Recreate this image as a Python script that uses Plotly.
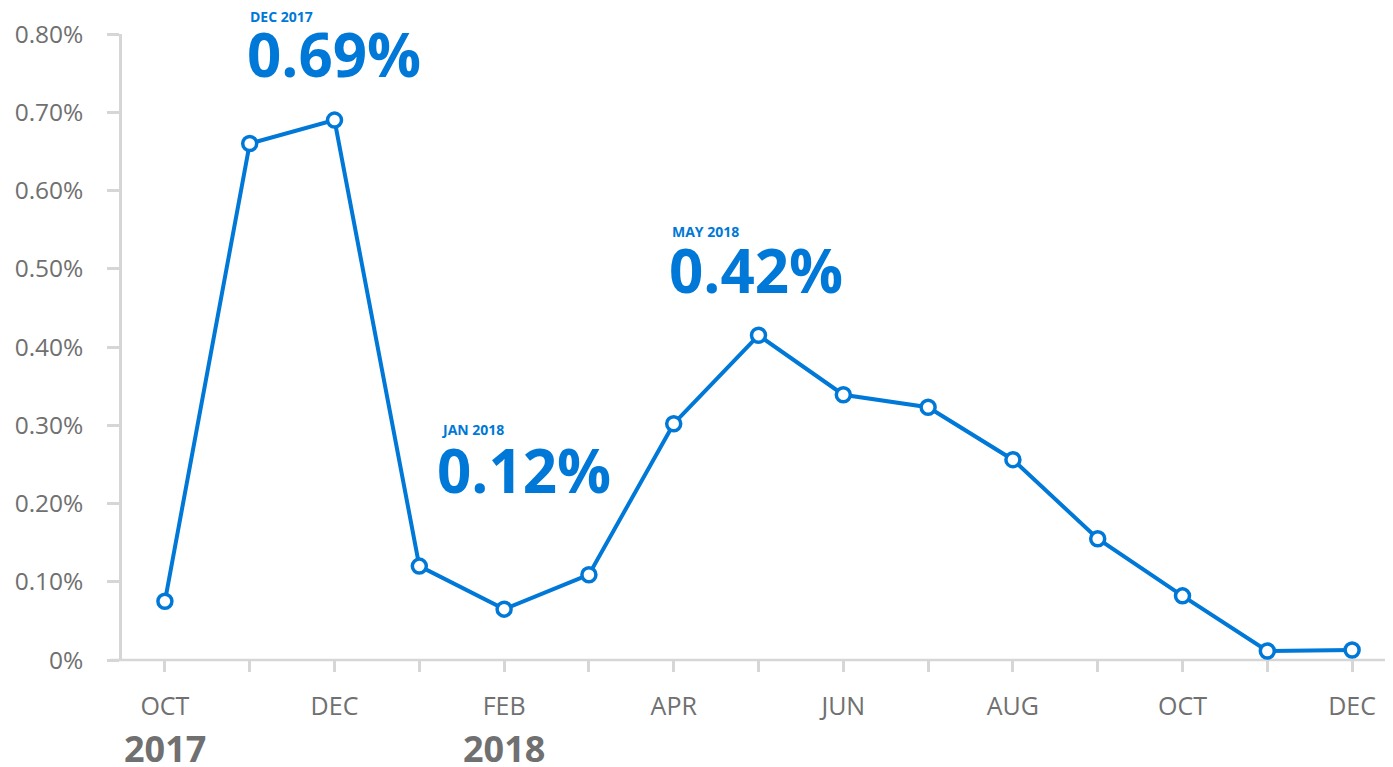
import plotly.graph_objects as go

months = ["OCT", "NOV", "DEC", "JAN", "FEB", "MAR", "APR", "MAY",
          "JUN", "JUL", "AUG", "SEP", "OCT", "NOV", "DEC"]
values = [0.075, 0.66, 0.69, 0.12, 0.065, 0.109, 0.302, 0.415,
          0.339, 0.323, 0.256, 0.155, 0.082, 0.0115, 0.0128]
y_ticks = [0, 0.1, 0.2, 0.3, 0.4, 0.5, 0.6, 0.7, 0.8]
y_ticktext = ["0%", "0.10%", "0.20%", "0.30%", "0.40%", "0.50%", "0.60%", "0.70%", "0.80%"]
year_labels = [(0, "2017"), (4, "2018")]
callouts = [  # (x position, small label, big label, small y, big y) in data units
    (0.98, "DEC 2017", "0.69%", 0.823, 0.775),
    (3.23, "JAN 2018", "0.12%", 0.294, 0.243),
    (5.96, "MAY 2018", "0.42%", 0.548, 0.498),
]

BLUE = "#0078d7"
GRAY_TXT = "#707070"
AXIS = "#d6d6d6"
FONT = "Open Sans"
YMAX = 0.8

x = list(range(len(months)))
ticktext = [m if i % 2 == 0 else "" for i, m in enumerate(months)]

fig = go.Figure()
fig.add_trace(go.Scatter(
    x=x, y=values, mode="lines+markers",
    line=dict(color=BLUE, width=4),
    marker=dict(symbol="circle", size=14, color="white",
                line=dict(color=BLUE, width=3.5)),
    cliponaxis=False, hoverinfo="skip",
))

for xi, small, big, ys, yb in callouts:
    fig.add_annotation(x=xi, y=ys / YMAX, xref="x", yref="paper", text=f"<b>{small}</b>",
                       showarrow=False, xanchor="left", yanchor="middle",
                       font=dict(family=FONT, size=14, color=BLUE))
    fig.add_annotation(x=xi - 0.04, y=yb / YMAX, xref="x", yref="paper", text=f"<b>{big}</b>",
                       showarrow=False, xanchor="left", yanchor="middle",
                       font=dict(family=FONT, size=60, color=BLUE))

for xi, yr in year_labels:
    fig.add_annotation(x=xi, y=0, xref="x", yref="paper", text=f"<b>{yr}</b>",
                       showarrow=False, xanchor="center", yanchor="middle", yshift=-88,
                       font=dict(family=FONT, size=36, color=GRAY_TXT))

# x-axis baseline extending slightly left of the y-axis
fig.add_shape(type="line", xref="paper", yref="paper", x0=-12 / 1274, x1=1.01, y0=0, y1=0,
              line=dict(color=AXIS, width=2.5), layer="below")

fig.update_layout(
    width=1393, height=767,
    margin=dict(l=112, r=7, t=26, b=115),
    paper_bgcolor="white", plot_bgcolor="white",
    showlegend=False,
    xaxis=dict(range=[-0.506, 14.494], tickmode="array", tickvals=x, ticktext=ticktext,
               showgrid=False, zeroline=False, showline=False,
               ticks="outside", ticklen=11, tickwidth=2.5, tickcolor=AXIS,
               ticklabelstandoff=13,
               tickfont=dict(family=FONT, size=25, color=GRAY_TXT)),
    yaxis=dict(range=[0, YMAX], tickmode="array", tickvals=y_ticks, ticktext=y_ticktext,
               showgrid=False, zeroline=False, showline=True, linecolor=AXIS, linewidth=2.5,
               ticks="outside", ticklen=12, tickwidth=2.5, tickcolor=AXIS,
               ticklabelstandoff=19,
               tickfont=dict(family=FONT, size=24.5, color=GRAY_TXT)),
)

fig.write_html("out.html")
